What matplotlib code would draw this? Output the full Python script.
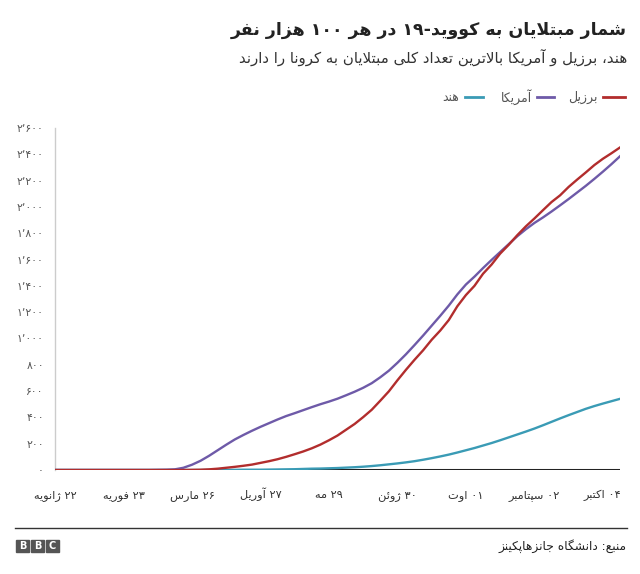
import numpy as np
import matplotlib.pyplot as plt
from matplotlib.patches import Rectangle

# --- data, one value every 4 days from 22 Jan ---
days = list(range(0, 265, 4))
usa = [0, 0, 0, 0, 0, 0, 0, 0, 0, 0,
       0, 0, 1, 2, 5, 17, 40, 70, 108, 150,
       192, 232, 266, 298, 328, 356, 384, 410, 432, 455,
       478, 500, 520, 542, 568, 595, 625, 660, 705, 755,
       815, 880, 950, 1022, 1097, 1172, 1250, 1335, 1410, 1470,
       1535, 1597, 1657, 1717, 1777, 1830, 1878, 1920, 1965, 2012,
       2060, 2110, 2160, 2213, 2268, 2325, 2385]
brazil = [0, 0, 0, 0, 0, 0, 0, 0, 0, 0,
          0, 0, 0, 0, 0, 0, 1, 2, 5, 10,
          17, 24, 32, 41, 54, 67, 82, 100, 120, 141,
          165, 193, 226, 262, 306, 350, 402, 458, 527, 598,
          682, 762, 838, 910, 990, 1060, 1140, 1245, 1330, 1400,
          1492, 1562, 1645, 1712, 1785, 1852, 1912, 1975, 2037, 2088,
          2152, 2208, 2262, 2318, 2366, 2408, 2452]
india = [0, 0, 0, 0, 0, 0, 0, 0, 0, 0,
         0, 0, 0, 0, 0, 0, 0, 0, 1, 1,
         1, 1, 2, 2, 2, 3, 4, 5, 6, 8,
         10, 11, 13, 15, 18, 21, 25, 30, 36, 43,
         50, 58, 67, 78, 90, 103, 117, 133, 150, 167,
         186, 205, 226, 248, 270, 292, 315, 340, 366, 392,
         417, 441, 465, 486, 505, 523, 541]

xtick_days = [0, 32, 64, 96, 128, 160, 192, 224, 256]
xtick_labels = ['۲۲ ژانویه', '۲۳ فوریه', '۲۶ مارس', '۲۷ آوریل', '۲۹ مه',
                '۳۰ ژوئن', '۰۱ اوت', '۰۲ سپتامبر', '۰۴ اکتبر']
yticks = list(range(0, 2601, 200))

title = 'شمار مبتلایان به کووید-۱۹ در هر ۱۰۰ هزار نفر'
subtitle = 'هند، برزیل و آمریکا بالاترین تعداد کلی مبتلایان به کرونا را دارند'
source = 'منبع: دانشگاه جانزهاپکینز'
names = ['برزیل', 'آمریکا', 'هند']

RED, PURPLE, TEAL = '#b22d2d', '#6e5aa8', '#3a9bb5'

# --- minimal arabic/persian shaping + right-to-left ordering ---
FORMS = {
    'ا': (0xFE8D, 0xFE8E), 'آ': (0xFE81, 0xFE82), 'د': (0xFEA9, 0xFEAA),
    'ذ': (0xFEAB, 0xFEAC), 'ر': (0xFEAD, 0xFEAE), 'ز': (0xFEAF, 0xFEB0),
    'ژ': (0xFB8A, 0xFB8B), 'و': (0xFEED, 0xFEEE),
    'ب': (0xFE8F, 0xFE90, 0xFE91, 0xFE92), 'پ': (0xFB56, 0xFB57, 0xFB58, 0xFB59),
    'ت': (0xFE95, 0xFE96, 0xFE97, 0xFE98), 'ث': (0xFE99, 0xFE9A, 0xFE9B, 0xFE9C),
    'ج': (0xFE9D, 0xFE9E, 0xFE9F, 0xFEA0), 'چ': (0xFB7A, 0xFB7B, 0xFB7C, 0xFB7D),
    'ح': (0xFEA1, 0xFEA2, 0xFEA3, 0xFEA4), 'خ': (0xFEA5, 0xFEA6, 0xFEA7, 0xFEA8),
    'س': (0xFEB1, 0xFEB2, 0xFEB3, 0xFEB4), 'ش': (0xFEB5, 0xFEB6, 0xFEB7, 0xFEB8),
    'ص': (0xFEB9, 0xFEBA, 0xFEBB, 0xFEBC), 'ع': (0xFEC9, 0xFECA, 0xFECB, 0xFECC),
    'غ': (0xFECD, 0xFECE, 0xFECF, 0xFED0), 'ف': (0xFED1, 0xFED2, 0xFED3, 0xFED4),
    'ق': (0xFED5, 0xFED6, 0xFED7, 0xFED8), 'ک': (0xFB8E, 0xFB8F, 0xFB90, 0xFB91),
    'گ': (0xFB92, 0xFB93, 0xFB94, 0xFB95), 'ل': (0xFEDD, 0xFEDE, 0xFEDF, 0xFEE0),
    'م': (0xFEE1, 0xFEE2, 0xFEE3, 0xFEE4), 'ن': (0xFEE5, 0xFEE6, 0xFEE7, 0xFEE8),
    'ه': (0xFEE9, 0xFEEA, 0xFEEB, 0xFEEC), 'ی': (0xFBFC, 0xFBFD, 0xFBFE, 0xFBFF),
    'ئ': (0xFE89, 0xFE8A, 0xFE8B, 0xFE8C),
}
DIGITS = '۰۱۲۳۴۵۶۷۸۹'


def shape(s):
    out = []
    i = 0
    while i < len(s):
        c = s[i]
        if c not in FORMS:
            out.append(c)
            i += 1
            continue
        prev = s[i - 1] if i > 0 else ''
        pj = prev in FORMS and len(FORMS[prev]) == 4
        if c == 'ل' and i + 1 < len(s) and s[i + 1] in 'اآ':
            lig = (0xFEFB, 0xFEFC) if s[i + 1] == 'ا' else (0xFEF5, 0xFEF6)
            out.append(chr(lig[1] if pj else lig[0]))
            i += 2
            continue
        f = FORMS[c]
        nxt = s[i + 1] if i + 1 < len(s) else ''
        nj = len(f) == 4 and nxt in FORMS
        idx = (3 if nj else 1) if pj else (2 if nj else 0)
        out.append(chr(f[idx]))
        i += 1
    return ''.join(out)


def rtl(s):
    s = shape(s)
    runs = []
    for i, c in enumerate(s):
        num = c in DIGITS or (c in '٬' and 0 < i < len(s) - 1
                              and s[i - 1] in DIGITS and s[i + 1] in DIGITS)
        if runs and runs[-1][0] == num:
            runs[-1][1] += c
        else:
            runs.append([num, c])
    return ''.join(t if num else t[::-1] for num, t in reversed(runs))


def fa_num(v):
    s = f'{v:,}'.replace(',', '٬')
    return ''.join(DIGITS[int(ch)] if ch.isdigit() else ch for ch in s)


plt.rcParams['font.family'] = ['DejaVu Sans']

W, H = 640, 574
fig = plt.figure(figsize=(W / 100, H / 100), dpi=100)


def fx(x):
    return x / W


def fy(y):
    return 1 - y / H


ax = fig.add_axes([fx(55), fy(470), (620 - 55) / W, (470 - 128) / H])
ax.axhline(0, color='#222222', lw=2.2, zorder=1)
ax.plot(days, india, color=TEAL, lw=1.7, zorder=3)
ax.plot(days, usa, color=PURPLE, lw=1.7, zorder=3)
ax.plot(days, brazil, color=RED, lw=1.7, zorder=4)

ax.set_xlim(0, 264)
ax.set_ylim(0, 2600)
ax.set_yticks(yticks)
ax.set_yticklabels([fa_num(v) for v in yticks])
ax.set_xticks(xtick_days)
ax.set_xticklabels([rtl(t) for t in xtick_labels])
ax.tick_params(axis='y', length=0, pad=8, labelsize=7.8, labelcolor='#555555')
ax.tick_params(axis='x', length=0, pad=20, labelsize=8.2, labelcolor='#333333')
for lab in ax.get_xticklabels():
    lab.set_verticalalignment('baseline')
for side in ['top', 'right', 'bottom']:
    ax.spines[side].set_visible(False)
ax.spines['left'].set_color('#cccccc')
ax.spines['left'].set_linewidth(1)

# title block
fig.text(fx(627), fy(30), rtl(title), ha='right', va='center',
         fontsize=12.5, fontweight='bold', color='#222222')
fig.text(fx(627), fy(57), rtl(subtitle), ha='right', va='center',
         fontsize=10.8, color='#333333')

# legend
leg = [(names[0], RED, 603, 625, 598), (names[1], PURPLE, 537, 554, 532),
       (names[2], TEAL, 465, 483, 459)]
for name, col, x0, x1, tx in leg:
    fig.add_artist(plt.Line2D([fx(x0), fx(x1)], [fy(97), fy(97)],
                              color=col, lw=2, transform=fig.transFigure))
    fig.text(fx(tx), fy(97), rtl(name), ha='right', va='center',
             fontsize=9, color='#555555')

# footer
fig.add_artist(plt.Line2D([fx(15), fx(627)], [fy(528), fy(528)],
                          color='#333333', lw=1, transform=fig.transFigure))
fig.text(fx(627), fy(546), rtl(source), ha='right', va='center',
         fontsize=8.8, color='#222222')
for i, ch in enumerate('BBC'):
    x0 = 16 + i * 15
    fig.add_artist(Rectangle((fx(x0), fy(552)), 13 / W, 12 / H,
                             color='#555555', transform=fig.transFigure))
    fig.text(fx(x0 + 6.5), fy(546), ch, ha='center', va='center',
             fontsize=7, fontweight='bold', color='white')

fig.savefig('out.png', dpi=100)
